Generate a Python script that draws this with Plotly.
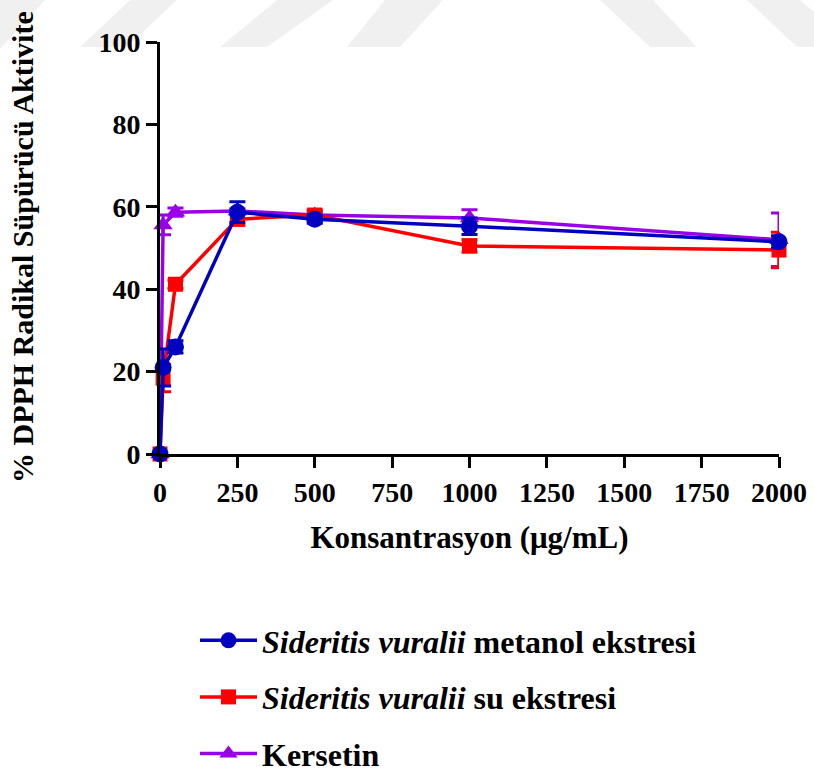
import plotly.graph_objects as go

# Concentrations (µg/mL)
konsantrasyon = [0, 10, 50, 250, 500, 1000, 2000]

# % DPPH radical scavenging activity (mean) and error (±)
metanol = [0, 21.0, 26.0, 58.7, 57.0, 55.3, 51.5]
metanol_err = [0, 4.5, 1.5, 2.5, 1.0, 2.0, 1.5]

su = [0, 18.4, 41.2, 57.0, 58.0, 50.5, 49.5]
su_err = [0, 3.3, 1.0, 1.5, 1.2, 1.5, 4.3]

kersetin = [0, 55.6, 58.7, 59.0, 58.0, 57.3, 52.0]
kersetin_err = [0, 2.4, 1.0, 0.5, 0.8, 2.0, 6.5]

x_ticks = [0, 250, 500, 750, 1000, 1250, 1500, 1750, 2000]
y_ticks = [0, 20, 40, 60, 80, 100]

BLUE = "#0000C0"
RED = "#FF0000"
PURPLE = "#9A00E8"
FONT = "Liberation Serif"

fig = go.Figure()

# drawn back-to-front; legend shows them in rank order
series = [
    ("<b>Kersetin</b>", kersetin, kersetin_err, PURPLE, "triangle-up", 17, 3),
    ("<b><i>Sideritis vuralii</i> su ekstresi</b>", su, su_err, RED, "square", 15, 2),
    ("<b><i>Sideritis vuralii</i> metanol ekstresi</b>", metanol, metanol_err, BLUE, "circle", 17, 1),
]

for name, vals, errs, color, symbol, size, rank in series:
    fig.add_trace(go.Scatter(
        x=konsantrasyon,
        y=vals,
        name=name,
        mode="lines+markers",
        line=dict(color=color, width=3.5),
        marker=dict(color=color, symbol=symbol, size=size, line=dict(width=0)),
        error_y=dict(type="data", array=errs, visible=True,
                     color=color, thickness=3, width=8),
        legendgroup=name,
        legendrank=rank,
        cliponaxis=False,
    ))

# Faint chevron watermark across the top of the page
L, R, T, B = 160, 779, 42, 454


def px(x):
    return (x - L) / (R - L)


def py(y):
    return (B - y) / (B - T)


bands = [
    [(-10, 0), (45, 0), (-10, 60)],
    [(130, 0), (177, 0), (127, 47), (80, 47)],
    [(277, 0), (333, 0), (267, 47), (220, 47)],
    [(385, 0), (443, 0), (400, 47), (347, 47)],
    [(600, 0), (653, 0), (697, 47), (650, 47)],
    [(747, 0), (800, 0), (814, 12), (814, 47), (797, 47)],
]
for poly in bands:
    path = "M " + " L ".join(f"{px(a):.4f},{py(b):.4f}" for a, b in poly) + " Z"
    fig.add_shape(type="path", path=path, xref="paper", yref="paper",
                  fillcolor="rgba(0,0,0,0.06)", line=dict(width=0),
                  layer="below")

axis_font = dict(family=FONT, size=28, color="black", weight="bold")

fig.update_layout(
    width=814,
    height=775,
    margin=dict(l=L, r=814 - R, t=T, b=775 - B, autoexpand=False),
    paper_bgcolor="white",
    plot_bgcolor="white",
    font=dict(family=FONT, color="black"),
    xaxis=dict(
        range=[0, 2000],
        tickvals=x_ticks,
        ticks="outside", ticklen=11, tickwidth=3, tickcolor="black",
        showline=True, linecolor="black", linewidth=3,
        showgrid=False, zeroline=False, automargin=False,
        tickfont=axis_font,
        title=dict(text="Konsantrasyon (μg/mL)", font=dict(family=FONT, size=31, weight="bold"),
                   standoff=20),
    ),
    yaxis=dict(
        range=[0, 100],
        tickvals=y_ticks,
        ticks="outside", ticklen=11, tickwidth=3, tickcolor="black",
        showline=True, linecolor="black", linewidth=3,
        showgrid=False, zeroline=False, automargin=False,
        tickfont=axis_font,
        title=dict(text=""),
    ),
    legend=dict(
        x=px(195), y=py(613), xanchor="left", yanchor="top",
        font=dict(family=FONT, size=32, color="black"),
        traceorder="grouped",
        tracegroupgap=12,
        itemwidth=57,
        bgcolor="rgba(0,0,0,0)",
    ),
    showlegend=True,
)

fig.add_annotation(
    text="% DPPH Radikal Süpürücü Aktivite",
    xref="paper", yref="paper",
    x=px(22), y=py(247), xanchor="center", yanchor="middle",
    textangle=-90, showarrow=False,
    font=dict(family=FONT, size=30, color="black", weight="bold"),
)

fig.write_html("out.html")
